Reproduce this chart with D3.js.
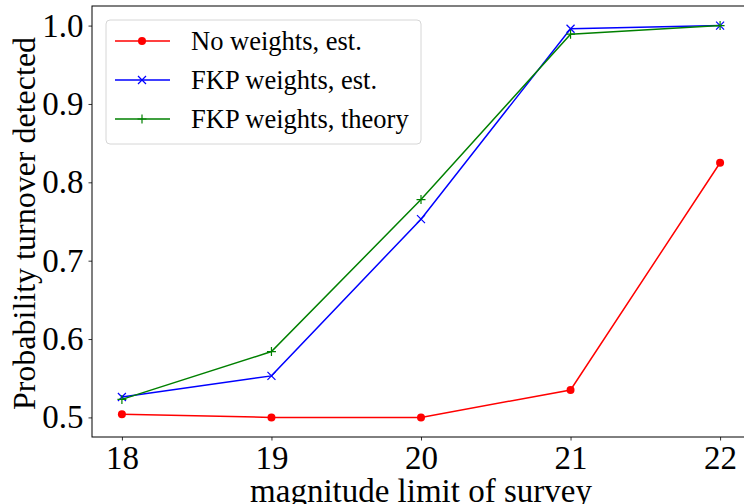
<!DOCTYPE html>
<html>
<head>
<meta charset="utf-8">
<script src="https://cdn.jsdelivr.net/npm/d3@7"></script>
<style>
  body { margin: 0; background: #fff; }
  svg { display: block; }
</style>
</head>
<body>
<script>
var magnitudes = [18, 19, 20, 21, 22],
    noWeightsEst = [0.504, 0.500, 0.500, 0.535, 0.825],
    fkpWeightsEst = [0.526, 0.553, 0.753, 0.996, 1.000],
    fkpWeightsTheory = [0.523, 0.584, 0.778, 0.989, 1.000],
    xTicks = [18, 19, 20, 21, 22],
    yTicks = [0.5, 0.6, 0.7, 0.8, 0.9, 1.0];

var series = [
    {label: 'No weights, est.', color: '#ff0000', marker: 'dot', values: noWeightsEst},
    {label: 'FKP weights, est.', color: '#0000ff', marker: 'x', values: fkpWeightsEst},
    {label: 'FKP weights, theory', color: '#008000', marker: 'plus', values: fkpWeightsTheory}
];

(function() {
    var W = 744, H = 504,
        mLeft = 92, mTop = 6, mRight = 750, mBottom = 437,
        serif = "'Liberation Serif', 'Times New Roman', Times, serif";

    var svg = d3.select('body').append('svg')
            .attr('width', W)
            .attr('height', H)
            .attr('font-family', serif),
        chart = svg.append('g');

    var xScale = d3.scaleLinear().domain([17.8, 22.2]).range([mLeft, mRight]),
        yScale = d3.scaleLinear().domain([0.475, 1.025]).range([mBottom, mTop]);

    // axes
    var xAxis = chart.append('g')
        .attr('transform', 'translate(0,' + mBottom + ')')
        .call(d3.axisBottom(xScale).tickValues(xTicks).tickSize(3.5).tickPadding(5).tickFormat(d3.format('d')));
    var yAxis = chart.append('g')
        .attr('transform', 'translate(' + mLeft + ',0)')
        .call(d3.axisLeft(yScale).tickValues(yTicks).tickSize(3.5).tickPadding(5).tickFormat(d3.format('.1f')));

    [xAxis, yAxis].forEach(function(ax) {
        ax.attr('font-family', serif).attr('font-size', 33);
        ax.select('.domain').remove();
        ax.selectAll('line').attr('stroke', '#000').attr('stroke-width', 0.8);
    });

    // spines
    chart.append('rect')
        .attr('x', mLeft)
        .attr('y', mTop)
        .attr('width', mRight - mLeft)
        .attr('height', mBottom - mTop)
        .attr('fill', 'none')
        .attr('stroke', '#000')
        .attr('stroke-width', 1);

    var line = d3.line()
        .x(function(d, i) { return xScale(magnitudes[i]); })
        .y(function(d) { return yScale(d); });

    function drawMarker(g, type, color) {
        if (type === 'dot') {
            g.append('circle').attr('r', 4).attr('fill', color);
        } else if (type === 'x') {
            g.append('path').attr('d', 'M-4,-4L4,4M-4,4L4,-4')
                .attr('stroke', color).attr('stroke-width', 1.2).attr('fill', 'none');
        } else {
            g.append('path').attr('d', 'M-4.5,0L4.5,0M0,-4.5L0,4.5')
                .attr('stroke', color).attr('stroke-width', 1.2).attr('fill', 'none');
        }
    }

    var lines = chart.append('g')
        .selectAll('g')
        .data(series)
        .enter()
        .append('g');

    lines.append('path')
        .attr('d', function(d) { return line(d.values); })
        .attr('fill', 'none')
        .attr('stroke', function(d) { return d.color; })
        .attr('stroke-width', 1.5);

    lines.each(function(s) {
        d3.select(this).selectAll('g.pt')
            .data(s.values)
            .enter()
            .append('g')
            .attr('class', 'pt')
            .attr('transform', function(d, i) { return 'translate(' + xScale(magnitudes[i]) + ',' + yScale(d) + ')'; })
            .each(function() { drawMarker(d3.select(this), s.marker, s.color); });
    });

    // legend
    var legend = chart.append('g');
    legend.append('rect')
        .attr('x', 106)
        .attr('y', 20)
        .attr('width', 315)
        .attr('height', 124)
        .attr('rx', 4)
        .attr('fill', '#fff')
        .attr('fill-opacity', 0.8)
        .attr('stroke', '#d6d6d6')
        .attr('stroke-width', 1);

    var items = legend.selectAll('g.item')
        .data(series)
        .enter()
        .append('g')
        .attr('class', 'item')
        .attr('transform', function(d, i) { return 'translate(0,' + (41 + i * 39) + ')'; });

    items.append('line')
        .attr('x1', 115).attr('x2', 170)
        .attr('stroke', function(d) { return d.color; })
        .attr('stroke-width', 1.5);
    items.each(function(s) {
        var g = d3.select(this).append('g').attr('transform', 'translate(142,0)');
        drawMarker(g, s.marker, s.color);
    });
    items.append('text')
        .attr('x', 191)
        .attr('y', 9)
        .attr('font-size', 26.5)
        .text(function(d) { return d.label; });

    // axis titles
    chart.append('text')
        .attr('x', (mLeft + mRight) / 2)
        .attr('y', 502)
        .attr('text-anchor', 'middle')
        .attr('font-size', 33)
        .text('magnitude limit of survey');

    chart.append('text')
        .attr('transform', 'translate(35,' + ((mTop + mBottom) / 2 + 2) + ') rotate(-90)')
        .attr('text-anchor', 'middle')
        .attr('font-size', 32)
        .text('Probability turnover detected');
})();
</script>
</body>
</html>
